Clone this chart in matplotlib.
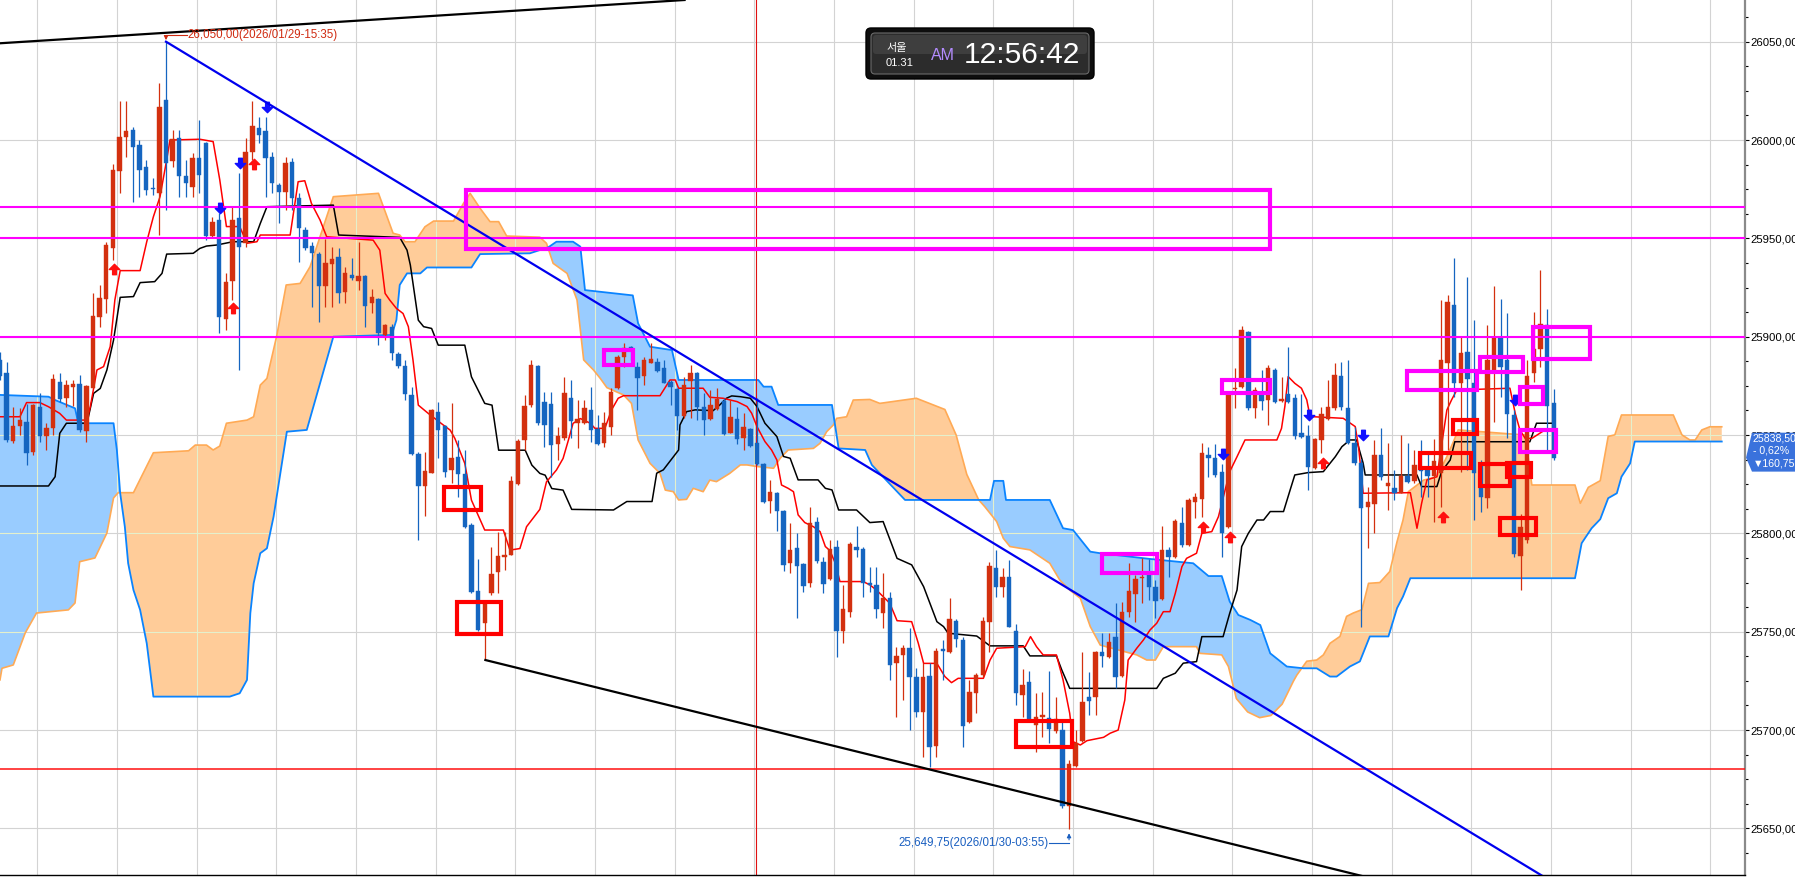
import numpy as np
import matplotlib
matplotlib.use("Agg")
import matplotlib.pyplot as plt
from matplotlib.patches import Rectangle, FancyBboxPatch, Polygon, PathPatch
from matplotlib.path import Path
from matplotlib.ticker import MultipleLocator, FuncFormatter, NullLocator
from matplotlib.transforms import IdentityTransform

# ---------------- data ----------------
opens = [25888, 25881.4, 25847.1, 25854.6, 25856.8, 25841.5, 25864.4, 25849.5, 25853.4, 25877.1,
         25868.7, 25874.6, 25875.9, 25852.2, 25873.7, 25909.9, 25919, 25945, 25984.3, 26001.4,
         26005.1, 25997.5, 25986.5, 25975.5, 25973.2, 26020.4, 25989.5, 26000.9, 25981.7, 25976.3,
         25990.7, 25998.7, 25951.2, 25959.4, 25908.8, 25928.5, 25960.2, 25947.5, 25994.1, 26006,
         26004.8, 25991.5, 25977.1, 25973.7, 25989, 25970.3, 25954.2, 25946.1, 25942, 25925.7,
         25936.9, 25940.6, 25922.8, 25931.3, 25928.4, 25930.8, 25917.3, 25919, 25900.8, 25905,
         25891.2, 25885, 25870.3, 25840.3, 25824, 25830.8, 25861.7, 25854.5, 25832.2, 25838.9,
         25830.1, 25804.2, 25770.8, 25754.2, 25769.5, 25780.5, 25788.1, 25789, 25825.1, 25847.4,
         25865.2, 25885, 25866.6, 25865.7, 25845.4, 25848.3, 25868.8, 25855.9, 25856.3, 25862.8,
         25852.9, 25845.8, 25854.3, 25873.8, 25889.5, 25895, 25884.5, 25880.1, 25886.8, 25887,
         25884, 25877.2, 25873.3, 25859.7, 25877.7, 25881.4, 25864.1, 25858, 25863.4, 25867.5,
         25851.2, 25858, 25848.4, 25852.9, 25846.2, 25835.3, 25816.7, 25820.7, 25811.6, 25784.8,
         25792.4, 25784.5, 25774.6, 25806, 25785.5, 25776.7, 25792.9, 25750.6, 25760.2, 25792.9,
         25791.9, 25775, 25773.8, 25759.7, 25767, 25734.3, 25738.2, 25741.6, 25726.8, 25709.4,
         25727.5, 25691.9, 25741, 25739.9, 25755.6, 25745.8, 25704.3, 25719, 25728, 25755.1,
         25782.3, 25772.6, 25777.7, 25750.6, 25717.7, 25724.6, 25702.6, 25706.8, 25706, 25699.7,
         25700, 25661.4, 25681.7, 25694.6, 25717, 25716.7, 25739.9, 25737.3, 25747.5, 25727.5,
         25759.9, 25769.2, 25777.2, 25778.9, 25772.6, 25766.5, 25791.6, 25788.2, 25805.1, 25794.1,
         25816.2, 25817.3, 25839.9, 25838.2, 25831.4, 25803.4, 25873.3, 25874.6, 25902.6, 25863.6,
         25870.4, 25867.9, 25883.1, 25867.5, 25870.9, 25868.7, 25850.9, 25849.5, 25833.1, 25847.5,
         25858, 25863.6, 25880.1, 25863.6, 25846.2, 25835.6, 25813.6, 25815, 25839.9, 25824.1,
         25822.9, 25820.7, 25829.2, 25826.8, 25834, 25833.1, 25829, 25830.9, 25886.5, 25916.1,
         25876.6, 25892.4, 25876.3, 25835.6, 25817.8, 25881.4, 25899.7, 25888.2, 25860.2, 25788.5,
         25796.6, 25881.4, 25893.6, 25906, 25866.1]
highs = [25892, 25887.3, 25864.4, 25864, 25866, 25866, 25871.2, 25856, 25881, 25881.4,
         25878, 25878, 25880.5, 25875.5, 25922, 25926.3, 25948.3, 25987.8, 26020, 26020,
         26006.8, 26000, 25989.9, 25980.5, 26028.8, 26050, 26005, 26005.1, 25989.9, 25993.2,
         26010.2, 25999.2, 25961, 25962.7, 25932.2, 25966.1, 25983.1, 26000.9, 26020, 26011.9,
         26011.9, 25994.1, 25978, 25991.2, 25990.7, 25973, 25955.9, 25948.3, 25943.2, 25949.5,
         25945.4, 25944.9, 25935.6, 25939.8, 25948.3, 25931.3, 25924.5, 25919.5, 25906.7, 25906.7,
         25892.4, 25888.1, 25874.5, 25841.5, 25841.5, 25863, 25866.9, 25855, 25866.4, 25847.4,
         25842.3, 25805.1, 25787.2, 25766, 25793.2, 25800.8, 25800.8, 25829.1, 25847.8, 25870.3,
         25888.1, 25885.6, 25872, 25872, 25854.2, 25879.6, 25877.9, 25867.8, 25867.9, 25874.6,
         25860.2, 25861.9, 25873.8, 25890.7, 25896.7, 25895.3, 25887.3, 25889.9, 25896.7, 25889,
         25888.2, 25878, 25873.8, 25879.7, 25885.6, 25882.3, 25871.2, 25872.9, 25873.8, 25868.7,
         25867.9, 25864.5, 25861.1, 25853.4, 25868.7, 25835.6, 25827.2, 25821.2, 25811.9, 25805.5,
         25800, 25784.8, 25813.6, 25808.5, 25788.2, 25796.7, 25796.7, 25773.8, 25795.8, 25803.8,
         25793.3, 25783.1, 25783.1, 25779.7, 25770.4, 25742.4, 25743.3, 25751.7, 25731.4, 25734,
         25734, 25741.6, 25745.8, 25767, 25756.3, 25747.5, 25725.5, 25728.9, 25757.7, 25785.6,
         25791.6, 25782.3, 25786.5, 25753.9, 25730.9, 25730.2, 25719, 25719.5, 25730.2, 25717,
         25705.1, 25684.8, 25700, 25739.9, 25729.7, 25740.4, 25749.2, 25749.2, 25764.5, 25765.3,
         25784.8, 25778.9, 25787.3, 25786.8, 25776.3, 25803.8, 25793.3, 25807.2, 25813.6, 25817.8,
         25820.4, 25845.8, 25844.1, 25845.5, 25835.3, 25871.2, 25884, 25905.5, 25903, 25874.6,
         25883, 25885.6, 25884, 25879.7, 25895, 25870.9, 25870.9, 25855.1, 25848.4, 25864.1,
         25878, 25886.5, 25887.3, 25888.2, 25854.3, 25837.7, 25823.8, 25847.5, 25853.4, 25845.8,
         25832.2, 25850.1, 25846.1, 25842.4, 25847.5, 25841.6, 25848, 25918.7, 25921.2, 25939.9,
         25899.7, 25930.5, 25908.5, 25837.3, 25906, 25925.8, 25919, 25911.9, 25862.7, 25810,
         25888, 25912.7, 25933.9, 25913.9, 25873.2]
lows = [25878, 25846.6, 25845.8, 25850, 25834.8, 25839.9, 25846.6, 25842.4, 25850, 25867,
        25864.4, 25865, 25851.7, 25846.6, 25873.7, 25905.1, 25912.2, 25939, 25973, 25991.5,
        25968.7, 25971, 25972, 25972, 25951.7, 25964.4, 25986.5, 25971.2, 25971.2, 25971.2,
        25972.9, 25949.2, 25950.9, 25901.7, 25903.4, 25918.7, 25883.1, 25945.8, 25989.9, 25998.3,
        25971.2, 25972.9, 25957.6, 25964.4, 25964.4, 25938.1, 25944, 25915.2, 25907.6, 25915.2,
        25915.2, 25917.3, 25917.3, 25928.8, 25923.7, 25905.1, 25911.8, 25895.7, 25898.3, 25888.1,
        25883.9, 25867.8, 25839.8, 25796.6, 25808.8, 25830.5, 25838.1, 25828.8, 25825.4, 25818.6,
        25802.5, 25769.5, 25750.5, 25735.6, 25768.6, 25769.5, 25781.3, 25789, 25824.5, 25842.3,
        25864.4, 25855, 25844, 25828.8, 25837.2, 25847.4, 25848.3, 25843.2, 25855.6, 25846.7,
        25845, 25844.1, 25850, 25873.3, 25884.8, 25888.2, 25862.8, 25875.5, 25886.5, 25882.3,
        25876.3, 25865.3, 25852.6, 25858.5, 25858.5, 25857.7, 25850, 25857.7, 25862.8, 25850,
        25850.9, 25845.5, 25842.4, 25844.1, 25834.8, 25815.6, 25810.2, 25801.4, 25781.1, 25780,
        25756.8, 25770.4, 25772.9, 25784.8, 25769.9, 25776.3, 25737, 25744.5, 25757.7, 25788.2,
        25767.9, 25770.4, 25756.8, 25751.7, 25725.5, 25706.8, 25715.3, 25700, 25706.8, 25686.5,
        25681.4, 25686.5, 25725.5, 25739, 25742.4, 25691.6, 25703.4, 25708.5, 25727.2, 25739.9,
        25767.8, 25767.8, 25752.6, 25712.8, 25706.8, 25705.1, 25689, 25696.7, 25693.3, 25698.3,
        25660.2, 25649.75, 25681.4, 25694.1, 25707.7, 25707.7, 25732.3, 25736.5, 25721.2, 25727.2,
        25757.7, 25755.1, 25764.5, 25766.2, 25756.8, 25766.2, 25778, 25787.3, 25793.3, 25793.6,
        25807.7, 25808.5, 25828.9, 25828.9, 25788.2, 25802.6, 25863.6, 25873.8, 25862.8, 25858.5,
        25862.8, 25855.1, 25866.2, 25867, 25866.2, 25847.9, 25848.4, 25822.1, 25832.6, 25840.7,
        25857.7, 25862.8, 25862.8, 25845.5, 25834.8, 25752.6, 25792.4, 25800, 25827.2, 25811.9,
        25817, 25820.4, 25825.4, 25825.4, 25818.3, 25818.7, 25806, 25813.6, 25842.4, 25869.5,
        25831.4, 25832.2, 25806.8, 25811, 25812.7, 25856.8, 25869.5, 25848.3, 25788.2, 25771.2,
        25795, 25877.1, 25884.4, 25840.7, 25837.3]
closes = [25880, 25847.5, 25854.6, 25857.6, 25841, 25865.3, 25849.5, 25853.4, 25878.3, 25868.2,
          25875.4, 25875.9, 25852.6, 25874.9, 25910.5, 25919.5, 25946.6, 25984.8, 26001.7, 26004.8,
          25996.3, 25984.8, 25974.6, 25975, 26017, 25988.5, 26000.4, 25981.7, 25978, 25990.7,
          25982.2, 25951.2, 25958.5, 25909.9, 25928, 25959.4, 25945.8, 25994.1, 26007.1, 26002.6,
          25990.7, 25978.3, 25973.7, 25988.5, 25970.4, 25955.1, 25944.9, 25942.7, 25925.7, 25937.3,
          25939.5, 25922.3, 25932.2, 25929.6, 25930.8, 25915.6, 25920.3, 25901.7, 25905.9, 25891.8,
          25885, 25871.1, 25840.6, 25824, 25831.8, 25862.7, 25852.5, 25831.3, 25838.4, 25830.1,
          25803.4, 25770.3, 25750.8, 25764.7, 25779.3, 25788.4, 25789, 25826.7, 25847.1, 25864.7,
          25885.6, 25855.9, 25855, 25844.9, 25849.5, 25871.5, 25857.1, 25858.4, 25863.6, 25852.6,
          25845.5, 25856, 25872.1, 25889.9, 25894.1, 25893.3, 25878.9, 25888.2, 25888.5, 25882.8,
          25876.7, 25874.3, 25859.7, 25875.5, 25881.4, 25864.5, 25857.7, 25865.3, 25868.2, 25850.6,
          25859, 25847.9, 25854.3, 25844.5, 25835.3, 25816.2, 25821.2, 25811.6, 25784, 25791.6,
          25783.4, 25773.3, 25805.1, 25786.2, 25774.3, 25791.9, 25750.6, 25761.4, 25794.6, 25791.6,
          25774.6, 25773.8, 25761.4, 25767, 25733.1, 25737.7, 25741.6, 25726.8, 25709.4, 25727.2,
          25691.2, 25740.2, 25740.4, 25756.3, 25746.1, 25702.1, 25719.5, 25728, 25755.6, 25783.4,
          25772.9, 25777.7, 25752.6, 25718.7, 25722.9, 25705.5, 25706.5, 25707.7, 25700.4, 25705.5,
          25661.4, 25682.8, 25693.6, 25714.5, 25715, 25739.9, 25737.7, 25745, 25726.8, 25760.2,
          25770.9, 25776.7, 25778, 25772.6, 25765.8, 25791.6, 25787.9, 25806.5, 25794.1, 25817,
          25818.7, 25841.1, 25838.2, 25829.7, 25800.4, 25870.4, 25873.8, 25903.4, 25863.6, 25872.9,
          25867.5, 25884, 25867, 25868.2, 25867, 25849.5, 25849.2, 25834, 25847.9, 25860.7,
          25864.1, 25880.6, 25864.1, 25846.2, 25835.6, 25812.8, 25816, 25839.9, 25828.5, 25825.8,
          25820.4, 25829.2, 25826.3, 25834.8, 25831.9, 25829.2, 25837, 25888.2, 25917.8, 25876.3,
          25891.9, 25878.3, 25830.9, 25818.3, 25888.2, 25899.7, 25884.8, 25860.7, 25789.5, 25803,
          25880, 25893.6, 25906.5, 25864.8, 25838.5]

tenkan = [(0, 25859.3), (3.0, 25859.3), (4.0, 25866.5), (6.0, 25866.5), (7.3, 25864.4), (9.0, 25861.0),
          (10.0, 25857.6), (13.1, 25857.6), (13.6, 25864.4), (14.6, 25883.1), (15.6, 25884.8), (16.6, 25895.0),
          (17.3, 25918.7), (18.1, 25933.6), (21.1, 25933.6), (22.1, 25948.3), (23.1, 25961.0), (24.1, 25971.2),
          (25.1, 25989.9), (25.6, 26000.0), (30.1, 26000.4), (32.1, 25999.2), (33.1, 25979.7), (34.1, 25956.0),
          (36.1, 25956.0), (37.2, 25947.5), (38.7, 25948.3), (39.2, 25951.7), (43.7, 25951.7), (44.9, 25978.8),
          (45.9, 25979.3), (46.9, 25967.8), (48.2, 25959.3), (49.2, 25950.8), (56.2, 25949.1), (57.2, 25944.0),
          (58.0, 25922.0), (58.7, 25918.6), (59.7, 25914.4), (60.7, 25911.8), (61.5, 25905.1), (62.2, 25888.1),
          (63.0, 25865.2), (64.5, 25861.0), (66.8, 25855.0), (67.8, 25852.5), (68.5, 25848.3), (70.0, 25835.6),
          (71.0, 25816.9), (73.0, 25801.7), (75.8, 25801.7), (76.8, 25791.5), (78.3, 25792.3), (79.3, 25803.4),
          (81.3, 25812.2), (82.3, 25826.2), (83.8, 25832.2), (84.8, 25838.1), (85.6, 25847.4), (86.3, 25855.9),
          (87.4, 25858.4), (88.9, 25856.0), (89.6, 25853.4), (91.1, 25853.4), (92.1, 25862.8), (93.1, 25868.7),
          (93.9, 25870.0), (99.4, 25870.0), (100.9, 25878.0), (101.7, 25878.0), (102.2, 25873.8), (105.9, 25873.8),
          (106.9, 25869.2), (108.9, 25868.7), (111.0, 25867.0), (112.5, 25864.5), (113.2, 25861.1), (114.0, 25854.3),
          (115.2, 25846.7), (116.2, 25842.4), (117.0, 25837.3), (117.7, 25824.6), (118.7, 25822.9), (119.5, 25821.2),
          (120.2, 25809.4), (121.2, 25805.5), (122.5, 25803.4), (123.5, 25800.9), (124.3, 25793.3), (125.0, 25791.2),
          (125.8, 25784.8), (126.5, 25775.5), (130.0, 25775.5), (131.0, 25773.8), (132.0, 25771.2), (134.0, 25764.5),
          (135.1, 25755.6), (137.3, 25755.1), (138.3, 25744.1), (139.1, 25733.9), (141.1, 25733.9), (142.3, 25727.2),
          (143.3, 25724.1), (144.3, 25726.3), (148.1, 25726.3), (149.1, 25735.6), (150.1, 25741.6), (154.4, 25742.4),
          (155.2, 25747.5), (156.1, 25742.4), (157.1, 25738.2), (159.1, 25738.2), (160.1, 25725.5), (161.1, 25708.5),
          (161.6, 25694.1), (162.7, 25692.4), (163.7, 25694.6), (166.2, 25696.3), (167.2, 25698.4), (168.4, 25700.0),
          (169.4, 25715.3), (169.9, 25735.6), (171.2, 25741.6), (172.2, 25745.8), (173.2, 25750.9), (174.2, 25754.3),
          (175.2, 25760.2), (176.2, 25760.2), (177.0, 25769.5), (178.0, 25783.1), (178.7, 25787.3), (180.2, 25789.9),
          (181.0, 25800.0), (182.5, 25800.9), (183.5, 25808.5), (185.2, 25831.4), (186.3, 25839.0), (187.5, 25847.5),
          (192.3, 25847.5), (193.0, 25853.4), (193.5, 25864.5), (194.0, 25879.7), (195.0, 25876.3), (196.0, 25873.8),
          (196.8, 25867.9), (197.3, 25859.4), (202.3, 25858.5), (204.1, 25854.3), (204.6, 25844.1), (205.3, 25820.4),
          (212.4, 25820.7), (213.4, 25802.6), (214.1, 25815.3), (214.9, 25827.2), (216.4, 25828.8), (217.9, 25862.7),
          (218.6, 25867.8), (219.4, 25872.9), (227.4, 25873.8), (228.2, 25861.0), (228.9, 25852.6), (229.7, 25848.3),
          (230.7, 25848.3), (232.4, 25852.0), (234.2, 25852.0)]

kijun = [(0, 25824.1), (7.3, 25824.1), (8.3, 25828.8), (9.0, 25850.9), (10.0, 25856.0), (13.1, 25856.0),
         (14.1, 25871.2), (15.1, 25873.7), (16.1, 25883.1), (17.1, 25898.3), (18.1, 25920.0), (20.1, 25920.4),
         (21.1, 25927.5), (23.3, 25928.0), (24.4, 25932.2), (25.1, 25942.0), (29.1, 25942.4), (30.1, 25944.9),
         (31.1, 25946.1), (32.6, 25946.6), (35.1, 25948.3), (38.2, 25948.3), (39.2, 25957.6), (40.2, 25966.1),
         (50.2, 25966.9), (51.0, 25951.7), (60.2, 25950.5), (61.3, 25944.0), (61.8, 25936.4), (63.0, 25908.4),
         (63.8, 25905.1), (65.0, 25904.2), (66.0, 25895.7), (70.0, 25895.7), (71.0, 25879.6), (73.0, 25866.1),
         (74.1, 25865.2), (75.1, 25842.3), (79.1, 25842.3), (80.1, 25834.7), (81.3, 25830.5), (82.1, 25829.6),
         (83.1, 25822.8), (84.8, 25822.0), (86.1, 25812.2), (92.4, 25811.9), (94.4, 25816.2), (98.2, 25816.2),
         (98.9, 25830.6), (99.9, 25832.3), (102.2, 25842.4), (102.4, 25855.1), (103.4, 25861.9), (104.7, 25862.8),
         (107.4, 25862.4), (108.4, 25865.3), (109.4, 25868.7), (110.2, 25869.9), (111.5, 25869.5), (113.0, 25868.7),
         (114.0, 25864.5), (115.2, 25856.0), (117.0, 25849.2), (118.0, 25839.1), (119.0, 25838.2), (120.2, 25827.2),
         (123.2, 25827.2), (124.3, 25822.9), (125.3, 25822.1), (126.3, 25811.9), (129.0, 25811.9), (131.0, 25805.5),
         (133.0, 25806.0), (135.1, 25787.3), (137.3, 25784.0), (139.1, 25772.9), (141.1, 25755.1), (142.1, 25752.6),
         (142.8, 25749.2), (147.1, 25747.8), (149.1, 25742.8), (154.1, 25742.8), (155.1, 25737.7), (159.1, 25737.7),
         (159.9, 25730.6), (161.1, 25721.2), (174.2, 25721.2), (175.2, 25726.3), (177.0, 25728.9), (178.2, 25734.0),
         (180.2, 25734.8), (181.0, 25747.5), (184.2, 25747.5), (185.2, 25759.4), (186.3, 25771.2), (187.0, 25793.3),
         (188.0, 25800.0), (189.3, 25806.8), (190.3, 25806.8), (191.3, 25811.1), (193.3, 25811.1), (194.3, 25822.1),
         (195.0, 25829.7), (197.0, 25830.9), (199.3, 25831.4), (201.1, 25839.0), (202.1, 25844.1), (203.3, 25847.5),
         (204.3, 25847.5), (205.3, 25835.6), (205.6, 25829.7), (213.4, 25829.7), (214.1, 25823.8), (216.4, 25823.8),
         (217.1, 25831.4), (218.4, 25837.3), (219.1, 25846.6), (230.4, 25846.6), (231.4, 25856.0), (234.2, 25856.0)]

span_a = [(0, 25725.5), (0.3, 25731.4), (2.0, 25733.1), (3.8, 25749.4), (5.5, 25759.5), (10.3, 25761.1),
          (11.3, 25764.6), (12.0, 25785.6), (14.3, 25787.5), (16.1, 25800.2), (17.1, 25818.0), (17.8, 25820.7),
          (20.1, 25820.7), (23.1, 25841.0), (28.4, 25842.0), (29.4, 25844.9), (31.1, 25844.9), (32.1, 25842.4),
          (33.1, 25844.4), (34.1, 25856.0), (37.2, 25857.6), (38.2, 25859.3), (39.2, 25875.4), (40.2, 25878.8),
          (41.7, 25900.8), (43.1, 25926.3), (45.2, 25927.1), (46.7, 25935.6), (50.2, 25971.2), (57.0, 25972.9),
          (59.2, 25952.6), (60.2, 25951.7), (61.0, 25948.3), (62.5, 25948.3), (64.0, 25955.9), (65.3, 25958.8),
          (68.3, 25958.8), (69.8, 25967.8), (70.8, 25972.9), (72.3, 25965.3), (73.8, 25958.5), (75.1, 25958.5),
          (76.3, 25951.2), (81.3, 25950.6), (82.3, 25947.5), (83.3, 25937.3), (85.4, 25932.2), (86.9, 25918.7),
          (87.9, 25888.2), (89.4, 25883.0), (90.4, 25878.8), (91.4, 25874.1), (93.9, 25870.4), (95.1, 25866.1),
          (96.1, 25847.5), (97.9, 25835.6), (99.4, 25830.5), (100.2, 25822.0), (101.4, 25821.2), (102.2, 25817.0),
          (103.4, 25817.3), (104.4, 25822.9), (105.9, 25821.2), (106.9, 25827.1), (107.9, 25826.3), (109.9, 25830.5),
          (111.5, 25834.8), (112.5, 25834.8), (114.0, 25834.0), (116.5, 25833.1), (117.5, 25838.2), (118.7, 25842.4),
          (122.5, 25843.2), (123.5, 25845.8), (124.5, 25851.7), (125.5, 25855.1), (126.0, 25858.5), (127.5, 25859.3),
          (128.5, 25867.8), (131.0, 25868.1), (132.5, 25866.1), (138.0, 25868.7), (142.3, 25863.0), (144.0, 25850.0),
          (145.6, 25830.0), (147.4, 25817.0), (148.3, 25813.6), (150.1, 25806.0), (151.1, 25797.5), (152.1, 25793.3),
          (155.1, 25791.6), (158.1, 25784.8), (159.6, 25776.3), (161.1, 25771.2), (162.7, 25767.0), (164.2, 25752.6),
          (165.7, 25743.2), (171.2, 25738.2), (172.7, 25735.6), (174.0, 25735.6), (175.2, 25742.4), (180.2, 25742.4),
          (180.7, 25739.0), (184.0, 25738.2), (185.0, 25732.3), (186.2, 25716.0), (187.9, 25709.2), (189.7, 25706.3),
          (191.4, 25707.4), (193.1, 25713.2), (194.8, 25724.9), (195.3, 25727.9), (196.8, 25735.0), (198.3, 25735.6),
          (199.3, 25738.2), (200.3, 25744.1), (201.8, 25747.6), (202.8, 25757.8), (203.8, 25759.5), (205.1, 25761.2),
          (206.1, 25774.6), (207.8, 25775.0), (209.3, 25780.6), (210.4, 25795.8), (211.3, 25806.8), (212.1, 25821.2),
          (214.4, 25827.1), (216.4, 25828.8), (217.9, 25839.0), (218.9, 25846.7), (219.6, 25852.6), (229.7, 25850.0),
          (230.7, 25824.6), (237.2, 25824.6), (238.0, 25815.3), (239.2, 25823.4), (241.0, 25826.8), (242.2, 25849.3),
          (243.2, 25850.1), (244.2, 25860.2), (252.0, 25860.2), (253.3, 25850.1), (254.5, 25847.5), (255.3, 25847.5),
          (256.3, 25852.6), (257.5, 25854.2), (259.3, 25854.2)]

span_b = [(0, 25870.4), (7.3, 25869.5), (8.3, 25867.8), (11.3, 25863.6), (11.8, 25856.0), (17.1, 25856.0),
          (17.6, 25842.4), (18.1, 25820.4), (18.8, 25803.4), (19.3, 25784.8), (20.1, 25771.2), (21.1, 25761.1),
          (22.1, 25744.1), (23.1, 25717.0), (34.6, 25717.0), (36.1, 25718.7), (37.2, 25725.5), (37.7, 25759.4),
          (38.2, 25774.6), (39.2, 25789.9), (40.2, 25792.4), (41.2, 25808.5), (43.2, 25851.7), (46.2, 25852.6),
          (50.2, 25900.0), (59.0, 25900.9), (59.7, 25908.5), (60.2, 25926.3), (61.3, 25932.2), (63.3, 25932.2),
          (64.3, 25935.2), (71.0, 25935.2), (72.3, 25942.0), (79.8, 25942.4), (82.6, 25945.5), (83.8, 25948.3),
          (86.3, 25948.3), (87.4, 25945.8), (88.1, 25923.7), (95.3, 25921.0), (96.1, 25906.8), (97.9, 25894.9),
          (101.2, 25893.2), (102.2, 25878.0), (114.2, 25878.0), (115.0, 25874.6), (116.2, 25874.6), (117.2, 25865.3),
          (125.3, 25865.3), (125.8, 25854.2), (126.3, 25843.2), (130.3, 25842.4), (131.3, 25834.8), (132.5, 25830.5),
          (136.3, 25817.0), (149.1, 25817.0), (149.7, 25826.7), (151.1, 25826.7), (151.5, 25817.0), (158.1, 25817.0),
          (160.1, 25802.6), (161.6, 25801.7), (164.2, 25790.7), (165.7, 25789.9), (173.2, 25787.0), (179.7, 25784.8),
          (182.0, 25778.3), (184.0, 25778.3), (185.2, 25765.3), (186.5, 25758.5), (188.3, 25756.0), (189.8, 25753.4),
          (191.3, 25739.0), (193.8, 25732.3), (196.3, 25731.4), (198.3, 25731.4), (200.3, 25727.2), (201.3, 25727.2),
          (203.3, 25732.3), (204.8, 25734.9), (206.3, 25747.6), (209.1, 25747.6), (210.4, 25762.0), (211.3, 25767.9),
          (212.4, 25777.2), (237.2, 25777.2), (238.2, 25795.0), (239.7, 25802.6), (241.0, 25807.2), (242.2, 25817.9),
          (243.5, 25820.4), (244.2, 25828.8), (245.5, 25835.6), (246.2, 25846.7), (259.3, 25846.7)]

magenta_levels = [25966, 25950, 25900]
red_level = 25680
session_break = 113.9

# boxes: (x_start, x_end, price_low, price_high)
magenta_boxes = [(70.2, 191.3, 25944.6, 25974.6), (90.9, 95.4, 25885.6, 25893.2),
                 (184.0, 191.3, 25871.5, 25878.0), (165.9, 174.3, 25780.0, 25789.5),
                 (211.9, 222.4, 25872.9, 25882.7), (222.9, 229.4, 25881.8, 25889.9),
                 (230.9, 239.4, 25888.5, 25905.1), (228.9, 232.4, 25865.8, 25874.6),
                 (228.9, 234.4, 25841.6, 25852.6)]
red_boxes = [(66.9, 72.4, 25811.9, 25823.4), (68.9, 75.4, 25748.9, 25765.3),
             (153.0, 161.4, 25691.6, 25704.8), (218.9, 222.4, 25850.5, 25857.4),
             (213.9, 221.5, 25833.1, 25840.7), (222.9, 227.4, 25824.1, 25835.1),
             (227.0, 230.5, 25828.8, 25835.6), (225.9, 231.4, 25799.3, 25807.7)]

buy_signals = [(17.1, 25934.3), (35.1, 25914.4), (38.2, 25987.8), (181.2, 25803.4),
               (185.2, 25798.0), (199.3, 25836.0), (217.3, 25808.5)]
sell_signals = [(33.1, 25965.3), (36.1, 25988.2), (40.2, 26017.0), (184.2, 25840.4),
                (197.2, 25860.2), (205.2, 25850.0), (228.2, 25867.8)]

trend_top = [(0, 26049.2), (103.1, 26071.2)]
trend_blue = [(25, 26050.0), (235, 25620.3)]
trend_bottom = [(73.1, 25735.6), (205, 25625.9)]

high_label = "26,050,00(2026/01/29-15:35)"
low_label = "25,649,75(2026/01/30-03:55)"
last_price_lines = ["25838,50", "- 0,62%", "\u25bc160,75"]

# ---------------- figure ----------------
W, H = 1795, 877
fig = plt.figure(figsize=(W / 100, H / 100), dpi=100)
fig.patch.set_facecolor("white")
ax = fig.add_axes([0, 2 / H, 1745 / W, 875 / H])
ax.set_facecolor("white")
ax.set_xlim(0, 1745 / 6.64)
ax.set_ylim(25626.3, 26071.2)

UP = "#d3300f"
DN = "#1565c0"

grid_x = [5.6 + 12 * k for k in range(22)]
grid_y = list(np.arange(25650, 26100, 50))

# grid
for gx in grid_x:
    ax.axvline(gx, color="#d3d3d3", lw=0.8, zorder=0.5)
for gy in grid_y:
    ax.axhline(gy, color="#d3d3d3", lw=0.8, zorder=0.5)

# cloud
ax_x, ax_y = zip(*span_a)
bx_x, bx_y = zip(*span_b)
xs = np.linspace(0, max(ax_x), 4000)
a = np.interp(xs, ax_x, ax_y)
b = np.interp(xs, bx_x, bx_y)
f1 = ax.fill_between(xs, a, b, where=a >= b, color="#ffcc99", lw=0, interpolate=True, zorder=1)
f2 = ax.fill_between(xs, a, b, where=a < b, color="#99ccff", lw=0, interpolate=True, zorder=1)
# faint grid visible through the cloud
cloud_path = Path.make_compound_path(*(list(f1.get_paths()) + list(f2.get_paths())))
clip_patch = PathPatch(cloud_path, transform=ax.transData, fc="none", ec="none")
ax.add_patch(clip_patch)
for gx in grid_x:
    ln = ax.axvline(gx, color="#e4f0cc", lw=0.8, zorder=1.5)
    ln.set_clip_path(clip_patch)
for gy in grid_y:
    ln = ax.axhline(gy, color="#e4f0cc", lw=0.8, zorder=1.5)
    ln.set_clip_path(clip_patch)

ax.plot(ax_x, ax_y, color="#ffaa55", lw=1.2, zorder=2)
ax.plot(bx_x, bx_y, color="#0a84ff", lw=1.3, zorder=2)

# vertical session divider and horizontal levels
ax.axvline(session_break, color="#e01010", lw=0.8, zorder=2.2)
for lv in magenta_levels:
    ax.axhline(lv, color="#ff00ff", lw=1.5, zorder=5)
ax.axhline(red_level, color="#ff1010", lw=1.1, zorder=5)

# tenkan / kijun
tx, ty = zip(*tenkan)
kx, ky = zip(*kijun)
ax.plot(kx, ky, color="black", lw=1.1, zorder=3)
ax.plot(tx, ty, color="#ff0000", lw=1.1, zorder=3.1)

# candles
idx = np.arange(len(opens))
o = np.array(opens); h = np.array(highs); l = np.array(lows); c = np.array(closes)
cols = np.where(c >= o, UP, DN)
ax.vlines(idx, l, h, colors=cols, lw=0.9, zorder=4)
bot = np.minimum(o, c)
hei = np.maximum(np.abs(c - o), 0.6)
ax.bar(idx, hei, bottom=bot, width=0.66, color=cols, edgecolor=cols, lw=0.3, zorder=4.1)

# signal arrows
up_arrow = Path([(-0.18, -0.5), (0.18, -0.5), (0.18, 0.0), (0.5, 0.0), (0, 0.5), (-0.5, 0.0),
                 (-0.18, 0.0), (-0.18, -0.5)],
                [Path.MOVETO] + [Path.LINETO] * 6 + [Path.CLOSEPOLY])
dn_arrow = Path([(x, -y) for x, y in up_arrow.vertices], up_arrow.codes)
bx_, by_ = zip(*buy_signals)
sx_, sy_ = zip(*sell_signals)
ax.plot(bx_, by_, ls="none", marker=up_arrow, ms=7.5, color="#ff1010", mec="#ff1010", zorder=6)
ax.plot(sx_, sy_, ls="none", marker=dn_arrow, ms=7.5, color="#1010ff", mec="#1010ff", zorder=6)

# trend lines
for pts, colr in ((trend_top, "black"), (trend_blue, "#0000ee"), (trend_bottom, "black")):
    xx, yy = zip(*pts)
    ax.plot(xx, yy, color=colr, lw=1.6, zorder=6)

# boxes
for x0, x1, y0, y1 in magenta_boxes:
    ax.add_patch(Rectangle((x0, y0), x1 - x0, y1 - y0, fill=False, ec="#ff00ff", lw=3.0, zorder=7))
for x0, x1, y0, y1 in red_boxes:
    ax.add_patch(Rectangle((x0, y0), x1 - x0, y1 - y0, fill=False, ec="#ff0000", lw=3.0, zorder=7))

# high / low annotations
hi_i = int(np.argmax(h)); lo_i = int(np.argmin(l))
ax.text(hi_i + 3.2, h[hi_i] + 3.4, high_label, color="#d02a10", fontsize=8.3,
        family=["Liberation Sans", "DejaVu Sans"], ha="left", va="center", zorder=8)
ax.plot([hi_i + 3.1, hi_i], [h[hi_i] + 3.4, h[hi_i] + 3.4], color="#d02a10", lw=0.8, zorder=8)
ax.annotate("", xy=(hi_i, h[hi_i] + 0.8), xytext=(hi_i, h[hi_i] + 3.5),
            arrowprops=dict(arrowstyle="-|>", color="#d02a10", lw=0.8, mutation_scale=6), zorder=8)
ax.text(lo_i - 3.1, l[lo_i] - 7.0, low_label, color="#1a5fc0", fontsize=8.3,
        family=["Liberation Sans", "DejaVu Sans"], ha="right", va="center", zorder=8)
ax.plot([lo_i - 3.0, lo_i], [l[lo_i] - 7.0, l[lo_i] - 7.0], color="#1a5fc0", lw=0.8, zorder=8)
ax.annotate("", xy=(lo_i, l[lo_i] - 0.8), xytext=(lo_i, l[lo_i] - 7.0),
            arrowprops=dict(arrowstyle="-|>", color="#1a5fc0", lw=0.8, mutation_scale=6), zorder=8)

# axes styling
ax.xaxis.set_major_locator(NullLocator())
ax.yaxis.tick_right()
ax.yaxis.set_major_locator(MultipleLocator(50))
ax.yaxis.set_minor_locator(MultipleLocator(12.5))
ax.yaxis.set_major_formatter(FuncFormatter(lambda v, pos: f"{v:.0f},00"))
ax.tick_params(axis="y", which="major", length=3, width=0.8, pad=1, labelsize=8.2, colors="black")
ax.tick_params(axis="y", which="minor", length=2.5, width=0.8)
for lab in ax.get_yticklabels():
    lab.set_family(["Liberation Sans", "DejaVu Sans"])
for s in ("top", "left"):
    ax.spines[s].set_visible(False)
ax.spines["right"].set_color("#8a8a8a")
ax.spines["right"].set_linewidth(1.6)
ax.spines["bottom"].set_color("black")
ax.spines["bottom"].set_linewidth(1.0)

# last price tag
last = c[-1]
tag = Polygon([(1.0006, last), (1.0040, 25851.2), (1.0290, 25851.2), (1.0290, 25831.4), (1.0040, 25831.4)],
              closed=True, transform=ax.get_yaxis_transform(), clip_on=False, fc="#3a72dc", ec="none", zorder=9)
ax.add_patch(tag)
for k, s in enumerate(last_price_lines):
    ax.text(1.0045, 25848.3 - k * 6.3, s, transform=ax.get_yaxis_transform(), clip_on=False,
            color="white", fontsize=7.6, family=["Liberation Sans", "DejaVu Sans"],
            ha="left", va="center", zorder=10)

# clock widget (figure pixel coordinates)
T = IdentityTransform()
fig.add_artist(FancyBboxPatch((866, H - 79), 228, 51, boxstyle="round,pad=0,rounding_size=5",
                              fc="#0e0e0e", ec="#000000", lw=1, transform=T))
fig.add_artist(FancyBboxPatch((871, H - 74), 218, 41, boxstyle="round,pad=0,rounding_size=4",
                              fc="#2c2c2c", ec="#6a6a6a", lw=0.8, transform=T))
fig.add_artist(FancyBboxPatch((873, H - 54), 214, 19, boxstyle="round,pad=0,rounding_size=3",
                              fc="#3e3e3e", ec="none", lw=0, transform=T))
fig.text(886, H - 47.5, "서울", transform=T, color="white", fontsize=8,
         family=["Noto Sans CJK KR", "DejaVu Sans"], ha="left", va="center")
fig.text(886, H - 63, "01.31", transform=T, color="white", fontsize=8,
         family=["Liberation Sans", "DejaVu Sans"], ha="left", va="center")
fig.text(931, H - 55, "AM", transform=T, color="#b48cff", fontsize=11.5,
         family=["Liberation Sans", "DejaVu Sans"], ha="left", va="center")
fig.text(964, H - 55, "12:56:42", transform=T, color="white", fontsize=21.5,
         family=["Liberation Sans", "DejaVu Sans"], ha="left", va="center")

fig.savefig("out.png", dpi=100, facecolor="white")
